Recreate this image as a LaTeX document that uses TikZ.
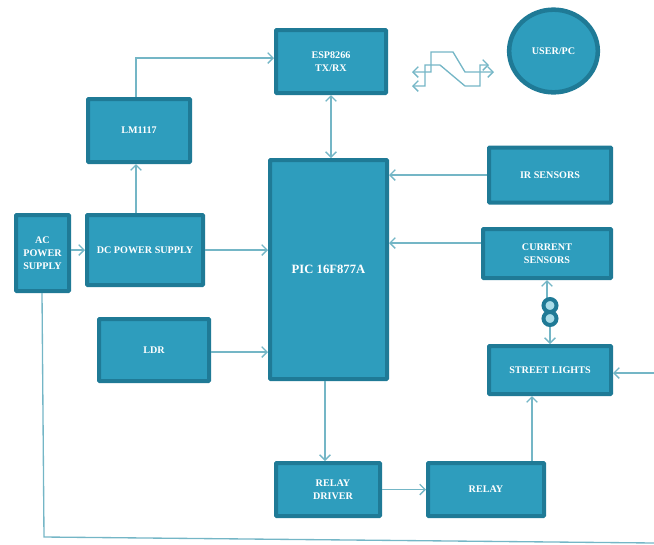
\documentclass[tikz,border=0pt]{standalone}
\usepackage{fontspec}
\setmainfont{Liberation Serif}
\usetikzlibrary{arrows.meta,shapes.geometric}
\definecolor{boxfill}{HTML}{2E9DBD}
\definecolor{boxedge}{HTML}{1F7A96}
\definecolor{linkcol}{HTML}{74B6C6}
\definecolor{holecol}{HTML}{A8DCE8}
\tikzset{
  block/.style={rectangle,draw=boxedge,fill=boxfill,line width=3pt,rounded corners=0.6pt,
    text=white,align=center,font=\bfseries\fontsize{7.6}{9.75}\selectfont,inner sep=0pt},
  link/.style={draw=linkcol,line width=1pt,-{Straight Barb[length=4pt,width=8pt]}},
  dlink/.style={draw=linkcol,line width=1pt,{Straight Barb[length=4pt,width=8pt]}-{Straight Barb[length=4pt,width=8pt]}},
  wire/.style={draw=linkcol,line width=1pt},
  ringnode/.style={circle,draw=boxedge,fill=holecol,line width=3pt,minimum size=9.75pt,inner sep=0pt,outer sep=0pt}
}
\newcommand{\blk}[5]{\node[block,minimum width=#3*0.75pt-3pt,minimum height=#4*0.75pt-3pt] (#1) at (#2) {#5};}
\begin{document}
\begin{tikzpicture}[x=0.75pt,y=-0.75pt]
\useasboundingbox (0,0) rectangle (654,544);
\blk{esp}{331,61.5}{114}{67}{ESP8266\\TX/RX}
\blk{lm}{139,130.5}{106}{67}{LM1117}
\blk{pic}{328.5,269.5}{121}{223}{\fontsize{9.5}{11}\selectfont PIC 16F877A}
\blk{ir}{550,175}{126}{59}{IR SENSORS}
\blk{cur}{547,253.5}{132}{53}{CURRENT\\SENSORS}
\blk{street}{550,370}{126}{52}{STREET LIGHTS}
\blk{ac}{42.5,253}{57}{80}{AC\\POWER\\SUPPLY}
\blk{dc}{145,250}{120}{74}{DC POWER SUPPLY}
\blk{ldr}{154,350}{114}{66}{LDR}
\blk{drv}{328,489.5}{108}{57}{\hspace*{7.5pt}RELAY\\\hspace*{7.5pt}DRIVER}
\blk{rel}{486,489.5}{120}{57}{RELAY}
\node[ellipse,draw=boxedge,fill=boxfill,line width=3.4pt,minimum width=66.5pt,minimum height=62pt,inner sep=0pt,text=white,font=\bfseries\fontsize{7.6}{9.75}\selectfont] (user) at (553.5,51) {USER/PC};
% connectors
\coordinate (lmbot) at (136,164);
\coordinate (lmtop) at (136,97);
\coordinate (dctop) at (136,213);
\coordinate (espin) at (274,58);
\coordinate (picout) at (325,381);
\coordinate (drvin) at (325,461);
\coordinate (relout) at (532,461);
\coordinate (strin) at (532,396);
\coordinate (acout) at (42,293);
\coordinate (corner) at (44,537);
\coordinate (rimr) at (654,543);
\coordinate (feed) at (654,373);
\coordinate (feedin) at (613,373);
\draw[link] (ac.east |- dc.east) -- (dc.west);
\draw[link] (dc.east) -- (pic.west |- dc.east);
\draw[link] (ldr.east) ++(0,2) -- (pic.west |- 0,352);
\draw[link] (dctop) -- (lmbot);
\draw[link] (lmtop) -- (136,58) -- (espin);
\draw[dlink] (esp.south) -- (pic.north -| esp.south);
\draw[link] (ir.west) -- (pic.east |- ir.west);
\draw[link] (cur.west |- 0,243) -- (pic.east |- 0,243);
\draw[link] (picout) -- (drvin);
\draw[link] (drv.east) -- (rel.west);
\draw[link] (relout) -- (strin);
\draw[link] (feed) -- (feedin);
\draw[wire] (acout) -- (corner) -- (rimr);
% current sensor link with the 8-shaped mark
\coordinate (ringtop) at (547,300);
\coordinate (curbot) at (547,280);
\coordinate (ringlow) at (550,322);
\draw[link] (ringtop) -- (curbot);
\draw[link] (ringlow) -- (street.north);
\node[ringnode] (ringa) at (550,305.5) {};
\node[ringnode] (ringb) at (550,318.5) {};
% signal waveform
\coordinate (wa) at (412,72);
\coordinate (wb) at (494,72);
\coordinate (wc) at (412,86);
\coordinate (wd) at (489,65);
\draw[dlink] (wa) -- (431,72) -- (431,52) -- (453,52) -- (465,72) -- (wb);
\draw[dlink] (wc) -- (425,86) -- (425,65) -- (440,65) -- (465,86) -- (480,86) -- (480,65) -- (wd);
\end{tikzpicture}
\end{document}
